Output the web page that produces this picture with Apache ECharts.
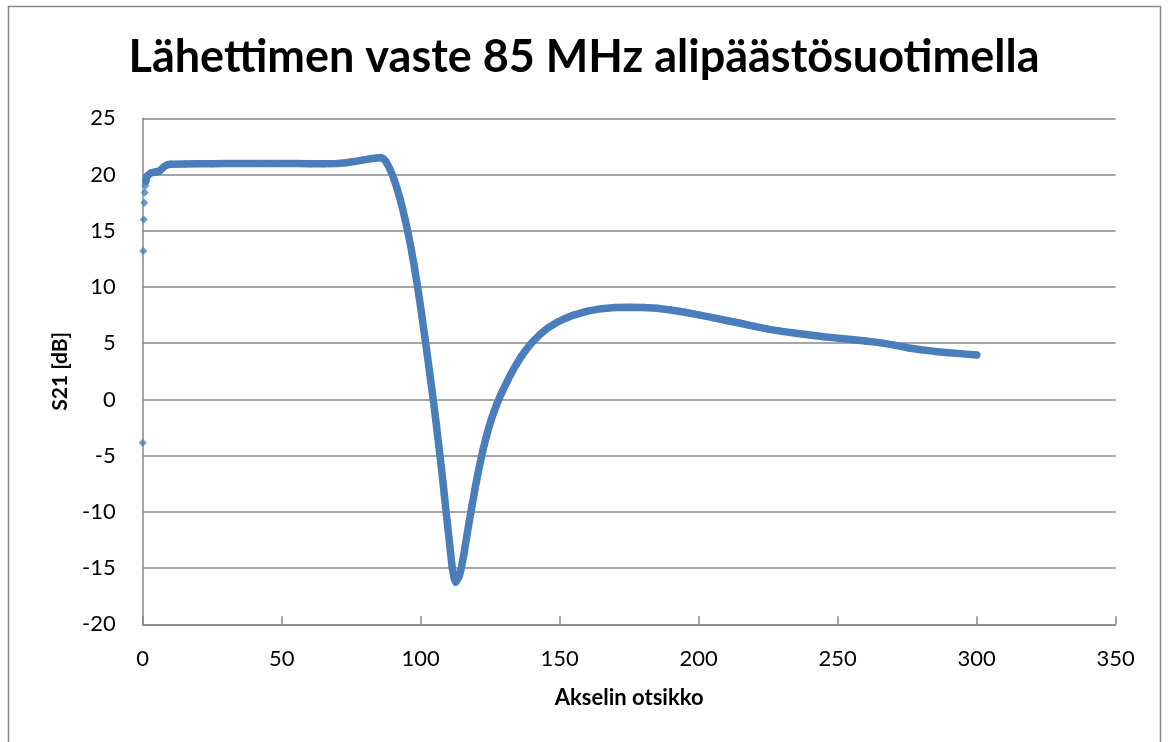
<!DOCTYPE html>
<html>
<head>
<meta charset="utf-8">
<script src="https://cdn.jsdelivr.net/npm/echarts@6/dist/echarts.min.js"></script>
<style>
  html, body { margin: 0; padding: 0; background: #fff; }
  #chart { width: 1168px; height: 742px; }
</style>
</head>
<body>
<div id="chart"></div>
<script>
// Transmitter response through an 85 MHz low-pass filter (S21 sweep)
const freqMHz = [
  0, 0.19, 0.38, 0.56, 0.75, 0.94, 1.13, 1.31, 1.5, 2, 3, 4, 5, 6, 7, 8, 9, 10,
  15, 20, 25, 30, 35, 40, 45, 50, 55, 60, 65, 70, 73, 76, 79, 82, 84, 85.5,
  86.5, 87.5, 88.5, 89.5, 90.5, 91.5, 92.5, 93.5, 94.5, 95.5, 96.5, 97.5, 98.5,
  99.5, 100.5, 101.5, 102.5, 103.5, 104.5, 105.5, 106.5, 107.5, 108.5, 109.5, 110.5, 111.3,
  112, 112.6, 113.2, 113.9, 114.6, 115.5, 116.5, 117.5, 118.5, 119.5, 120.5, 121.5,
  122.5, 123.5, 124.5, 125.5, 126.5, 127.5, 128.5, 130, 132, 134, 136, 138, 140,
  143, 146, 149, 152, 155, 160,
  165, 170, 175, 180, 185, 190, 195, 200, 205, 210, 215, 220, 225, 230, 235,
  240, 245, 250, 255, 260, 265, 270, 275, 280, 285, 290, 295, 300
];
const s21dB = [
  -3.85, 13.2, 16.0, 17.5, 18.4, 19.0, 19.4, 19.65, 19.85, 20.0, 20.15, 20.2, 20.25, 20.3, 20.55, 20.75, 20.87, 20.92,
  20.93, 20.95, 20.96, 20.97, 20.98, 20.98, 20.99, 20.98, 20.97, 20.96, 20.96, 20.99, 21.05, 21.15, 21.28, 21.4, 21.47, 21.5,
  21.42, 21.15, 20.7, 20.15, 19.5, 18.75, 17.9, 16.95, 15.9, 14.75, 13.5, 12.1, 10.6,
  9.0, 7.3, 5.5, 3.7, 1.85, 0, -2.0, -4.1, -6.2, -8.5, -10.8, -13.1, -14.9,
  -15.9, -16.25, -16.1, -15.7, -15.0, -13.8, -12.3, -10.8, -9.4, -8.0, -6.7, -5.5,
  -4.4, -3.4, -2.5, -1.7, -1.0, -0.35, 0.25, 1.05, 2.05, 2.95, 3.75, 4.45, 5.05,
  5.8, 6.4, 6.85, 7.2, 7.5, 7.85,
  8.07, 8.17, 8.2, 8.17, 8.1, 7.95, 7.75, 7.52, 7.27, 7.02, 6.77, 6.5, 6.25, 6.05, 5.88,
  5.72, 5.57, 5.45, 5.33, 5.2, 5.05, 4.85, 4.6, 4.42, 4.27, 4.15, 4.05, 3.95
];
const xTicks = [0, 50, 100, 150, 200, 250, 300, 350];
const yTicks = [-20, -15, -10, -5, 0, 5, 10, 15, 20, 25];

const titleText = 'Lähettimen vaste 85 MHz alipäästösuotimella';
const xName = 'Akselin otsikko';
const yName = 'S21 [dB]';

const points = freqMHz.map((f, i) => [f, s21dB[i]]);
// the first few sweep points sit apart; the continuous trace starts once they close up
const traceStart = 6;
const tracePoints = points.slice(traceStart);

const blue = '#4A7EBB';
const gridGray = '#888888';
const font = 'Lato';

const chart = echarts.init(document.getElementById('chart'), null, { renderer: 'canvas' });
chart.setOption({
  backgroundColor: '#ffffff',
  animation: false,
  title: {
    text: titleText,
    left: 'center',
    top: 30,
    textStyle: { fontFamily: font, fontWeight: 'bold', fontSize: 45, color: '#000' }
  },
  graphic: [{
    type: 'rect',
    shape: { x: 8.5, y: 6.5, width: 1152, height: 750 },
    style: { fill: 'none', stroke: '#8a8a8a', lineWidth: 1.5 },
    silent: true
  }],
  grid: { left: 142.7, right: 52.3, top: 118.3, bottom: 117.7, containLabel: false },
  xAxis: {
    type: 'value',
    min: xTicks[0],
    max: xTicks[xTicks.length - 1],
    interval: 50,
    name: xName,
    nameLocation: 'middle',
    nameGap: 63,
    nameTextStyle: { fontFamily: font, fontWeight: 'bold', fontSize: 22, color: '#000' },
    axisLine: { onZero: false, lineStyle: { color: gridGray, width: 1.5 } },
    axisTick: { inside: true, length: 8, lineStyle: { color: gridGray, width: 1.5 } },
    axisLabel: { margin: 24, fontFamily: font, fontSize: 22, color: '#000' },
    splitLine: { show: false }
  },
  yAxis: {
    type: 'value',
    min: yTicks[0],
    max: yTicks[yTicks.length - 1],
    interval: 5,
    name: yName,
    nameLocation: 'middle',
    nameGap: 71,
    nameRotate: 90,
    nameTextStyle: { fontFamily: font, fontWeight: 'bold', fontSize: 21, color: '#000' },
    axisLine: { show: true, onZero: false, lineStyle: { color: gridGray, width: 1.5 } },
    axisTick: { show: false },
    axisLabel: { margin: 27, fontFamily: font, fontSize: 22, color: '#000' },
    splitLine: { show: true, lineStyle: { color: gridGray, width: 1.5 } }
  },
  series: [
    {
      type: 'line',
      data: tracePoints,
      showSymbol: false,
      smooth: false,
      lineStyle: { color: blue, width: 7.5, cap: 'round', join: 'round' },
      itemStyle: { color: blue },
      z: 2
    },
    {
      type: 'scatter',
      data: points,
      symbol: 'diamond',
      symbolSize: 8,
      itemStyle: { color: blue },
      z: 3
    }
  ]
});
</script>
</body>
</html>
